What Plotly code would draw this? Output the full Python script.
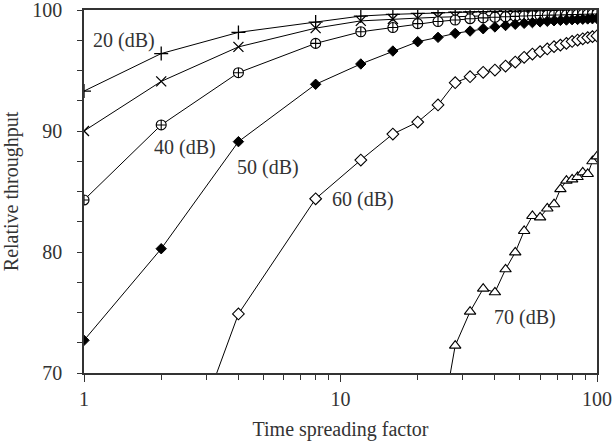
import numpy as np
import plotly.graph_objects as go

x_factor = [1, 2, 4, 8, 12, 16, 20, 24, 28, 32, 36, 40, 44, 48, 52, 56, 60,
            64, 68, 72, 76, 80, 84, 88, 92, 96, 100]

snr_20 = [93.3, 96.4, 98.15, 99.0, 99.5, 99.64, 99.72, 99.78, 99.82, 99.85, 99.87,
          99.88, 99.89, 99.9, 99.91, 99.92, 99.92, 99.93, 99.93, 99.94, 99.94,
          99.95, 99.95, 99.95, 99.96, 99.96, 99.96]
snr_30 = [90.0, 94.1, 96.95, 98.5, 99.1, 99.26, 99.33, 99.4, 99.45, 99.5, 99.53,
          99.56, 99.58, 99.6, 99.62, 99.64, 99.65, 99.67, 99.68, 99.69, 99.7,
          99.72, 99.73, 99.74, 99.75, 99.76, 99.77]
snr_40 = [84.3, 90.5, 94.82, 97.24, 98.2, 98.55, 98.87, 99.05, 99.17, 99.28, 99.35,
          99.4, 99.44, 99.47, 99.5, 99.52, 99.54, 99.56, 99.58, 99.59, 99.6,
          99.62, 99.63, 99.64, 99.65, 99.66, 99.67]
snr_50 = [72.7, 80.27, 89.12, 93.86, 95.54, 96.61, 97.38, 97.74, 98.07, 98.26, 98.45,
          98.6, 98.72, 98.82, 98.9, 98.96, 99.02, 99.07, 99.11, 99.14, 99.17,
          99.2, 99.22, 99.24, 99.26, 99.28, 99.3]
snr_60 = [None, 57.5, 74.88, 84.4, 87.6, 89.75, 90.74, 92.15, 93.99, 94.49, 94.85,
          95.04, 95.37, 95.7, 96.09, 96.36, 96.56, 96.78, 96.97, 97.1, 97.24,
          97.4, 97.52, 97.62, 97.72, 97.8, 97.86]
snr_70 = [None, None, None, None, None, None, None, 64.2, 72.26, 75.07, 76.97,
          76.67, 78.57, 79.97, 81.74, 82.98, 82.86, 83.6, 83.95, 85.2, 85.9,
          86.0, 86.2, 86.58, 86.45, 87.5, 87.9]

series_labels = ["20 (dB)", "30 (dB)", "40 (dB)", "50 (dB)", "60 (dB)", "70 (dB)"]

x_major_ticks = [1, 10, 100]
x_minor_ticks = [2, 3, 4, 5, 6, 7, 8, 9, 20, 30, 40, 50, 60, 70, 80, 90]
y_major_ticks = [70, 80, 90, 100]

FONT = "Liberation Serif"
TXT = "#333333"
FS = 20

styles = [
    dict(symbol="cross-thin", size=10, color="black", line=dict(color="black", width=1.3)),
    dict(symbol="x-thin", size=10, color="black", line=dict(color="black", width=1.3)),
    dict(symbol="circle-cross", size=10, color="white", line=dict(color="black", width=1.1)),
    dict(symbol="diamond", size=8, color="black", line=dict(color="black", width=1)),
    dict(symbol="diamond", size=9, color="white", line=dict(color="black", width=1.1)),
    dict(symbol="triangle-up", size=10, color="white", line=dict(color="black", width=1.1)),
]

fig = go.Figure()
for ys, name, st in zip([snr_20, snr_30, snr_40, snr_50, snr_60, snr_70],
                        series_labels, styles):
    fig.add_trace(go.Scatter(x=x_factor, y=ys, mode="lines+markers", name=name,
                             line=dict(color="black", width=1),
                             marker=st, connectgaps=False, showlegend=False))

# curve labels (data coords)
label_pos = [("20 (dB)", 1.43, 97.5), ("40 (dB)", 2.47, 88.6), ("50 (dB)", 5.2, 87.0),
             ("60 (dB)", 12.2, 84.3), ("70 (dB)", 52.5, 74.55)]
for txt, lx, ly in label_pos:
    fig.add_annotation(x=np.log10(lx), y=ly, xref="x", yref="y", text=txt,
                       showarrow=False, font=dict(family=FONT, size=FS, color=TXT))

fig.update_xaxes(type="log", range=[0, 2], tickvals=x_major_ticks,
                 ticktext=[str(v) for v in x_major_ticks],
                 ticks="outside", ticklen=7, tickwidth=1.2, tickcolor="#333",
                 minor=dict(ticks="outside", ticklen=5, tickwidth=1, tickcolor="#333",
                            tickvals=x_minor_ticks, showgrid=False),
                 showline=True, linecolor="#333", linewidth=1.5, mirror=True,
                 showgrid=False, zeroline=False, automargin=False,
                 ticklabelstandoff=0, ticklabeloverflow="allow",
                 tickfont=dict(family=FONT, size=FS, color=TXT),
                 title=dict(text="Time spreading factor", font=dict(family=FONT, size=FS, color=TXT),
                            standoff=13))
fig.update_yaxes(range=[70, 100], tickvals=y_major_ticks,
                 ticks="outside", ticklen=5, tickwidth=1.2, tickcolor="#333",
                 minor=dict(ticks="outside", ticklen=5, tickwidth=1, tickcolor="#333",
                            dtick=2.5, showgrid=False),
                 showline=True, linecolor="#333", linewidth=1.5, mirror=True,
                 showgrid=False, zeroline=False, automargin=False,
                 ticklabelstandoff=11, ticklabeloverflow="allow",
                 tickfont=dict(family=FONT, size=FS, color=TXT),
                 title=dict(text="Relative throughput", font=dict(family=FONT, size=FS, color=TXT),
                            standoff=11))

fig.update_layout(width=614, height=446, margin=dict(l=84, r=17, t=10, b=73),
                  plot_bgcolor="white", paper_bgcolor="white")

fig.write_html("out.html", config={"displayModeBar": False},
               post_script="document.body.style.margin='0';")
